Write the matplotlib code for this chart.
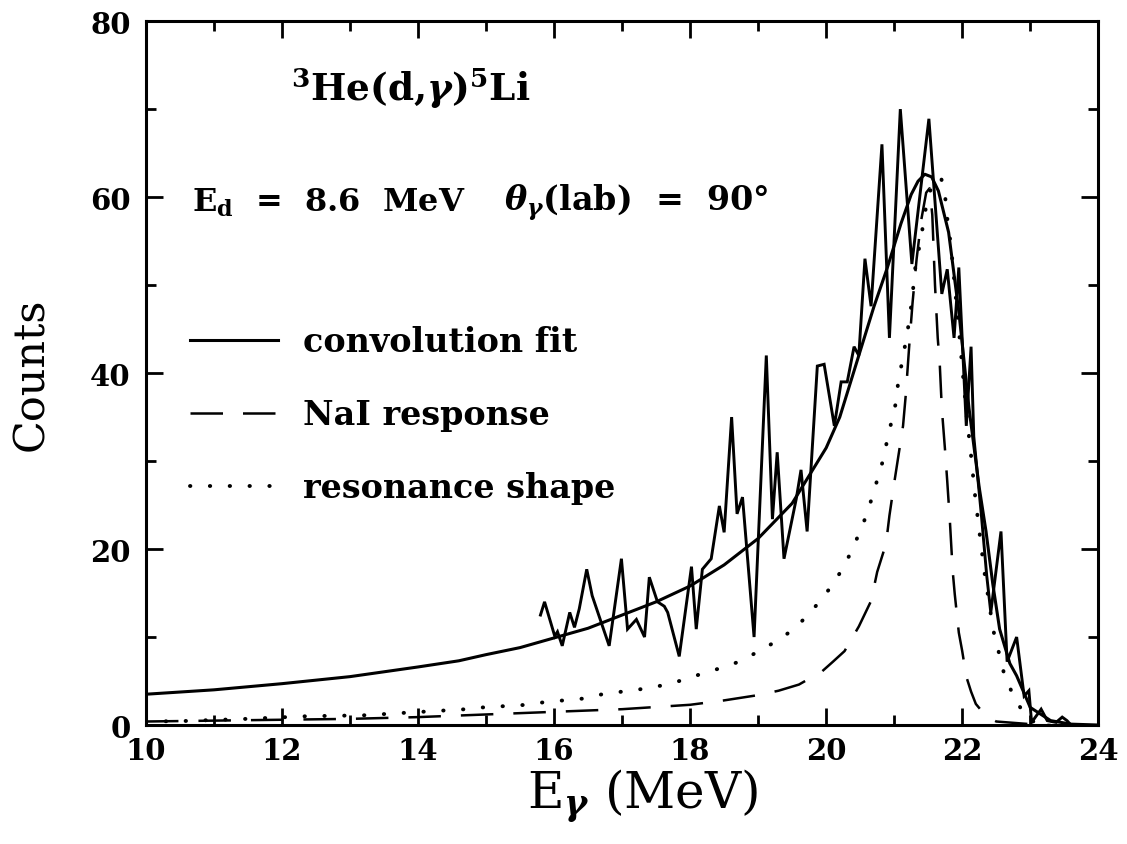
import matplotlib
matplotlib.use("Agg")
import matplotlib.pyplot as plt
from matplotlib.ticker import MultipleLocator

plt.rcParams['font.family'] = ['DejaVu Serif']
plt.rcParams['font.weight'] = 'bold'
plt.rcParams['mathtext.fontset'] = 'custom'
plt.rcParams['mathtext.rm'] = 'DejaVu Serif:bold'
plt.rcParams['mathtext.it'] = 'DejaVu Serif:italic:bold'
plt.rcParams['mathtext.bf'] = 'DejaVu Serif:bold'

# measured spectrum (E_gamma in MeV, counts)
data_e = [15.80, 15.86, 16.01, 16.05, 16.12, 16.23, 16.30, 16.37, 16.48, 16.56,
          16.70, 16.81, 16.99, 17.08, 17.21, 17.33, 17.40, 17.52, 17.62, 17.67,
          17.84, 18.02, 18.09, 18.18, 18.31, 18.43, 18.50, 18.61, 18.69, 18.77,
          18.94, 19.12, 19.21, 19.28, 19.38, 19.56, 19.63, 19.72, 19.87, 19.97,
          20.12, 20.22, 20.31, 20.41, 20.48, 20.57, 20.66, 20.82, 20.93, 21.09,
          21.26, 21.51, 21.70, 21.78, 21.88, 21.95, 22.06, 22.13, 22.17, 22.28,
          22.36, 22.42, 22.57, 22.66, 22.80, 22.91, 22.98, 23.02, 23.16, 23.25,
          23.38, 23.47, 23.54, 23.60]
data_c = [12.5, 14.0, 10.1, 10.6, 9.0, 12.8, 11.1, 13.2, 17.7, 14.7,
          11.5, 9.0, 18.9, 10.9, 12.0, 10.0, 16.8, 14.0, 13.5, 12.8,
          7.8, 18.0, 10.9, 17.7, 18.9, 24.9, 21.9, 35.0, 24.0, 25.9,
          10.0, 42.0, 23.4, 31.0, 18.9, 25.7, 29.0, 22.0, 40.8, 41.0,
          34.0, 39.0, 39.0, 43.0, 42.0, 53.0, 47.6, 66.0, 44.0, 70.0,
          52.4, 68.9, 49.0, 51.8, 44.0, 52.0, 34.0, 43.0, 32.8, 24.0,
          17.0, 12.8, 22.0, 7.2, 10.0, 3.3, 3.9, 0.3, 1.8, 0.5,
          0.3, 0.9, 0.5, 0.0]

# convolution fit
fit_e = [10.0, 11.0, 12.0, 13.0, 14.0, 14.6, 15.0, 15.5, 16.0, 16.5,
         17.0, 17.5, 18.0, 18.5, 19.0, 19.5, 20.0, 20.2, 20.5, 20.7,
         20.9, 21.1, 21.25, 21.35, 21.45, 21.55, 21.65, 21.8, 21.95, 22.1,
         22.25, 22.35, 22.45, 22.55, 22.7, 22.8, 23.0, 23.3, 23.6, 24.0]
fit_c = [3.5, 4.0, 4.7, 5.5, 6.6, 7.3, 8.0, 8.8, 9.9, 11.0,
         12.5, 14.0, 15.8, 18.2, 21.2, 25.2, 31.5, 35.0, 42.5, 47.5,
         52.0, 57.0, 60.3, 61.8, 62.6, 62.3, 60.7, 56.0, 47.0, 36.0,
         27.0, 22.0, 16.0, 10.9, 7.0, 5.6, 2.0, 0.5, 0.1, 0.0]

# NaI response
nai_e = [10.0, 11.0, 12.0, 13.0, 14.0, 15.0, 16.0, 17.0, 18.0, 18.5,
         19.0, 19.3, 19.6, 19.94, 20.1, 20.27, 20.48, 20.66, 20.75, 20.88,
         20.93, 21.0, 21.08, 21.13, 21.17, 21.22, 21.27, 21.33, 21.4, 21.47,
         21.52, 21.56, 21.6, 21.64, 21.67, 21.7, 21.75, 21.78, 21.82, 21.86,
         21.89, 21.95, 22.0, 22.06, 22.13, 22.2, 22.35, 22.5, 23.0, 23.3]
nai_c = [0.4, 0.5, 0.6, 0.7, 0.9, 1.2, 1.5, 1.8, 2.3, 2.8,
         3.4, 3.9, 4.6, 6.1, 7.2, 8.4, 11.2, 14.1, 17.4, 20.6,
         23.8, 27.5, 31.5, 34.0, 37.5, 43.0, 48.0, 53.0, 57.5, 60.5,
         61.0, 58.0, 50.0, 44.0, 41.0, 36.0, 31.0, 27.7, 23.0, 17.5,
         14.9, 10.5, 8.4, 5.5, 3.8, 2.4, 1.0, 0.4, 0.1, 0.0]

# resonance shape
res_e = [10.0, 10.54, 11.48, 12.36, 13.19, 13.83, 14.71, 14.95, 15.6, 15.86,
         16.42, 16.71, 17.30, 17.59, 17.89, 18.16, 18.46, 18.72, 18.99, 19.24,
         19.49, 19.71, 19.90, 20.07, 20.22, 20.37, 20.48, 20.59, 20.68, 20.76,
         20.84, 20.90, 20.97, 21.03, 21.06, 21.12, 21.17, 21.22, 21.26, 21.32,
         21.39, 21.43, 21.48, 21.56, 21.63, 21.69, 21.75, 21.78, 21.82, 21.85,
         21.95, 22.06, 22.13, 22.19, 22.26, 22.33, 22.42, 22.47, 22.54, 22.61,
         22.72, 22.86, 23.0, 23.2]
res_c = [0.4, 0.45, 0.7, 1.0, 1.1, 1.4, 1.8, 2.0, 2.3, 2.6,
         3.0, 3.5, 4.1, 4.5, 5.1, 5.8, 6.5, 7.2, 8.3, 9.4,
         10.7, 12.3, 14.0, 15.7, 17.5, 19.7, 21.7, 23.8, 26.0, 28.1,
         30.2, 32.5, 34.8, 36.8, 39.1, 41.4, 43.6, 45.9, 48.2, 52.7,
         55.0, 57.2, 59.4, 61.5, 62.0, 62.2, 60.0, 57.6, 55.3, 53.2,
         45.0, 35.6, 30.6, 26.0, 21.5, 17.2, 12.6, 10.3, 8.2, 6.0,
         3.9, 1.9, 0.5, 0.1]

fig = plt.figure(figsize=(11.27, 8.45), dpi=100)
ax = fig.add_axes([0.1295, 0.1408, 0.845, 0.833])

ax.plot(data_e, data_c, color='black', lw=2.1, solid_joinstyle='miter')
ln_fit, = ax.plot(fit_e, fit_c, color='black', lw=2.2, label='convolution fit')
ln_nai, = ax.plot(nai_e, nai_c, color='black', lw=1.8, dashes=(13, 8),
                  label='NaI response')
ln_res, = ax.plot(res_e, res_c, color='black', lw=2.8, dashes=(0.1, 5.0),
                  dash_capstyle='round', label='resonance shape')

ax.set_xlim(10, 24)
ax.set_ylim(0, 80)
ax.xaxis.set_major_locator(MultipleLocator(2))
ax.xaxis.set_minor_locator(MultipleLocator(1))
ax.yaxis.set_major_locator(MultipleLocator(20))
ax.yaxis.set_minor_locator(MultipleLocator(10))
ax.tick_params(which='both', direction='in', top=True, right=True, width=2)
ax.tick_params(which='major', length=12, labelsize=21)
ax.tick_params(axis='x', which='major', pad=8)
ax.tick_params(axis='y', which='major', pad=11)
ax.tick_params(which='minor', length=7)
for s in ax.spines.values():
    s.set_linewidth(2.2)

ax.set_xlabel(r'E$_\gamma$ (MeV)', fontsize=36)
ax.xaxis.set_label_coords(0.522, -0.06)
ax.set_ylabel('Counts', fontsize=31)
ax.yaxis.set_label_coords(-0.099, 0.5)

ax.text(13.9, 72.5, r'$^{3}$He(d,$\gamma$)$^{5}$Li', fontsize=27,
        ha='center', va='center')
ax.text(10.67, 59.5, r'E$_{\rm d}$  =  8.6  MeV', fontsize=23,
        ha='left', va='center')
ax.text(15.27, 59.5, r'$\theta_\gamma$(lab)  =  90°', fontsize=24,
        ha='left', va='center')

ax.legend(handles=[ln_fit, ln_nai, ln_res], loc='upper left',
          bbox_to_anchor=(0.046, 0.568), frameon=False, fontsize=24,
          handlelength=2.65, handletextpad=0.75, labelspacing=1.2,
          borderpad=0, borderaxespad=0)

fig.savefig('out.png', dpi=100)
